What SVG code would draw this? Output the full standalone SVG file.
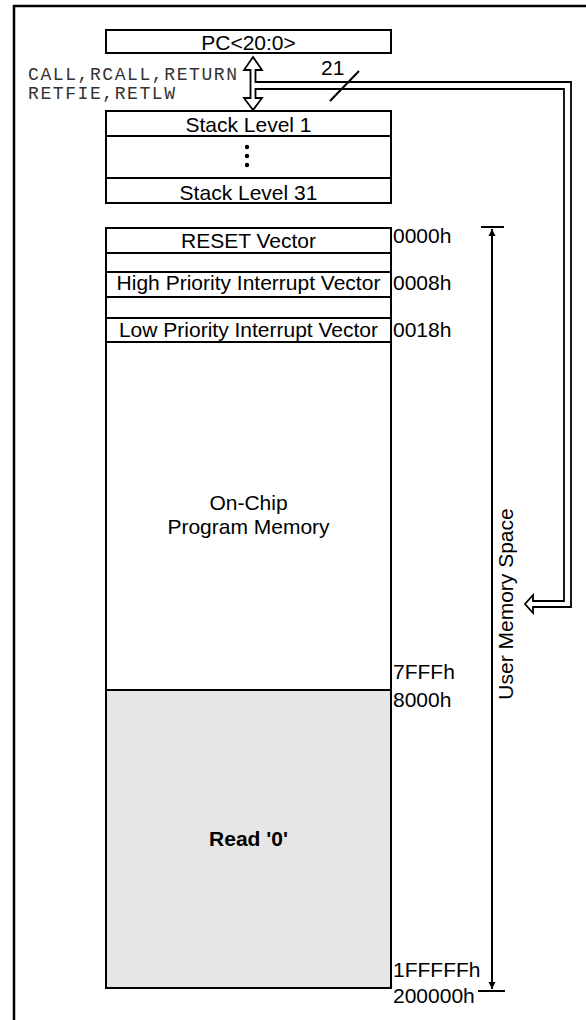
<svg xmlns="http://www.w3.org/2000/svg" width="586" height="1020" viewBox="0 0 586 1020">
<style>
.box{fill:#fff;stroke:#000;stroke-width:2}
.grey{fill:#e6e6e6;stroke:#000;stroke-width:2}
.ln{stroke:#000;stroke-width:2;fill:none}
.t{font-family:"Liberation Sans",Arial,sans-serif;font-size:21px;fill:#000}
.c{text-anchor:middle}
.m{font-family:"Liberation Mono","Courier New",monospace;font-size:18px;fill:#333}
</style>
<defs>
<marker id="ah" viewBox="0 0 10 10" refX="10" refY="5" markerWidth="7" markerHeight="9" markerUnits="userSpaceOnUse" orient="auto-start-reverse">
<path d="M0,0 L10,5 L0,10 Z" fill="#000"/>
</marker>
</defs>
<rect x="14" y="6" width="620" height="1100" fill="none" stroke="#000" stroke-width="2.5"/>

<g id="pc">
<rect class="box" x="106" y="30" width="285" height="23"/>
<text class="t c" x="248.5" y="50">PC&lt;20:0&gt;</text>
</g>

<g id="stack">
<rect class="box" x="106" y="111" width="285" height="92"/>
<line class="ln" x1="106" y1="136" x2="391" y2="136"/>
<line class="ln" x1="106" y1="178" x2="391" y2="178"/>
<text class="t c" x="248.5" y="132">Stack Level 1</text>
<circle cx="247" cy="147" r="2.2"/>
<circle cx="247" cy="156" r="2.2"/>
<circle cx="247" cy="165" r="2.2"/>
<text class="t c" x="248.5" y="200">Stack Level 31</text>
</g>

<g id="memory">
<rect class="box" x="106" y="228" width="285" height="462"/>
<rect class="grey" x="106" y="690" width="285" height="298"/>
<rect class="box" x="106" y="228" width="285" height="25"/>
<rect class="box" x="106" y="272" width="285" height="25"/>
<rect class="box" x="106" y="318" width="285" height="24"/>
<text class="t c" x="248.5" y="248">RESET Vector</text>
<text class="t c" x="248.5" y="290">High Priority Interrupt Vector</text>
<text class="t c" x="248.5" y="337">Low Priority Interrupt Vector</text>
<text class="t c" x="248.5" y="510">On-Chip</text>
<text class="t c" x="248.5" y="534">Program Memory</text>
<text class="t c" x="248.5" y="846" font-weight="bold">Read '0'</text>
</g>

<g id="addresses">
<text class="t" x="393" y="243">0000h</text>
<text class="t" x="393" y="290">0008h</text>
<text class="t" x="393" y="337">0018h</text>
<text class="t" x="393" y="679">7FFFh</text>
<text class="t" x="393" y="707">8000h</text>
<text class="t" x="393" y="977">1FFFFFh</text>
<text class="t" x="393" y="1003">200000h</text>
</g>

<g id="instr">
<text class="m" x="28" y="80" textLength="209" lengthAdjust="spacing">CALL,RCALL,RETURN</text>
<text class="m" x="28" y="99" textLength="147" lengthAdjust="spacing">RETFIE,RETLW</text>
</g>

<g id="connectors">
<path d="M253,57 L262,70 L255.5,70 L255.5,82 L571,82 L571,607 L533,607 L533,613 L525,604 L533,595 L533,601 L564,601 L564,89 L255.5,89 L255.5,98 L262,98 L253,110 L244,98 L250.5,98 L250.5,70 L244,70 Z" fill="#fff" stroke="#000" stroke-width="1.8" stroke-linejoin="miter"/>
<line class="ln" x1="330" y1="101" x2="359" y2="71" stroke-width="1.5"/>
<text class="t" x="321" y="75">21</text>
<line class="ln" x1="492" y1="229" x2="492" y2="989" marker-start="url(#ah)" marker-end="url(#ah)"/>
<line class="ln" x1="481" y1="227" x2="504" y2="227"/>
<line class="ln" x1="478" y1="991" x2="505" y2="991"/>
<text class="t c" transform="translate(513,604) rotate(-90)" x="0" y="0">User Memory Space</text>
</g>
</svg>
